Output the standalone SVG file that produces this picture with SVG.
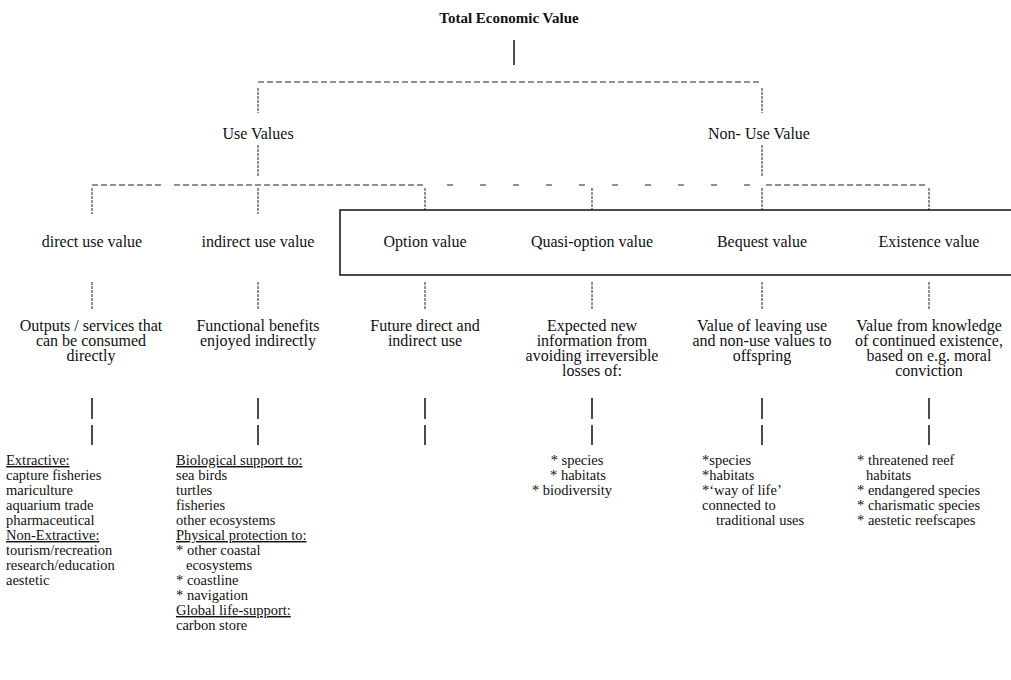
<svg xmlns="http://www.w3.org/2000/svg" width="1011" height="680" viewBox="0 0 1011 680">
<style>
text{font-family:"Liberation Serif","Times New Roman",serif;font-size:16px;fill:#111}
.c{text-anchor:middle}
.b{font-weight:bold;font-size:15px}
.u{text-decoration:underline}
.l text{font-size:14.5px}
.dash{stroke:#222;stroke-width:1.2;fill:none;stroke-dasharray:6 3}
.sparse{stroke:#222;stroke-width:1.2;fill:none;stroke-dasharray:6 27}
.dot{stroke:#222;stroke-width:1;fill:none;stroke-dasharray:3 1}
.sol{stroke:#111;stroke-width:1.5;fill:none}
.box{stroke:#111;stroke-width:1.5;fill:none}
</style>
<g id="connectors">
<line class="sol" x1="514" y1="40" x2="514" y2="65"/>
<line class="dash" x1="258" y1="82" x2="762" y2="82"/>
<line class="dot" x1="258" y1="88" x2="258" y2="113"/>
<line class="dot" x1="762" y1="88" x2="762" y2="113"/>
<line class="dot" x1="258" y1="145" x2="258" y2="177"/>
<line class="dot" x1="762" y1="145" x2="762" y2="177"/>
<line class="dash" x1="92" y1="185" x2="164" y2="185"/>
<line class="dash" x1="174" y1="185" x2="426" y2="185"/>
<line class="sparse" x1="447" y1="185" x2="750" y2="185"/>
<line class="dash" x1="766" y1="185" x2="926" y2="185"/>
<line class="dot" x1="92" y1="188" x2="92" y2="214"/>
<line class="dot" x1="258" y1="188" x2="258" y2="214"/>
<line class="dot" x1="425" y1="188" x2="425" y2="210"/>
<line class="dot" x1="592" y1="188" x2="592" y2="210"/>
<line class="dot" x1="762" y1="188" x2="762" y2="210"/>
<line class="dot" x1="929" y1="188" x2="929" y2="210"/>
<line class="dot" x1="92" y1="282" x2="92" y2="310"/>
<line class="dot" x1="258" y1="282" x2="258" y2="310"/>
<line class="dot" x1="425" y1="282" x2="425" y2="310"/>
<line class="dot" x1="592" y1="282" x2="592" y2="310"/>
<line class="dot" x1="762" y1="282" x2="762" y2="310"/>
<line class="dot" x1="929" y1="282" x2="929" y2="310"/>
<g class="sol">
<path d="M92 398V419M92 425V445"/>
<path d="M258 398V419M258 425V445"/>
<path d="M425 398V419M425 425V445"/>
<path d="M592 398V419M592 425V445"/>
<path d="M762 398V419M762 425V445"/>
<path d="M929 398V419M929 425V445"/>
</g>
</g>
<g id="nonuse-box"><path class="box" d="M1015 210H340V275H1015"/></g>
<g id="tev"><text class="c b" x="509" y="23">Total Economic Value</text></g>
<g id="use-values"><text class="c" x="258" y="139">Use Values</text></g>
<g id="non-use-value"><text class="c" x="759" y="139">Non- Use Value</text></g>
<g id="direct-use"><text class="c" x="92" y="247">direct use value</text>
<text class="c" x="91" y="331">Outputs / services that</text>
<text class="c" x="91" y="346">can be consumed</text>
<text class="c" x="91" y="361">directly</text></g>
<g id="indirect-use"><text class="c" x="258" y="247">indirect use value</text>
<text class="c" x="258" y="331">Functional benefits</text>
<text class="c" x="258" y="346">enjoyed indirectly</text></g>
<g id="option"><text class="c" x="425" y="247">Option value</text>
<text class="c" x="425" y="331">Future direct and</text>
<text class="c" x="425" y="346">indirect use</text></g>
<g id="quasi-option"><text class="c" x="592" y="247">Quasi-option value</text>
<text class="c" x="592" y="331">Expected new</text>
<text class="c" x="592" y="346">information from</text>
<text class="c" x="592" y="361">avoiding irreversible</text>
<text class="c" x="592" y="376">losses of:</text></g>
<g id="bequest"><text class="c" x="762" y="247">Bequest value</text>
<text class="c" x="762" y="331">Value of leaving use</text>
<text class="c" x="762" y="346">and non-use values to</text>
<text class="c" x="762" y="361">offspring</text></g>
<g id="existence"><text class="c" x="929" y="247">Existence value</text>
<text class="c" x="929" y="331">Value from knowledge</text>
<text class="c" x="929" y="346">of continued existence,</text>
<text class="c" x="929" y="361">based on e.g. moral</text>
<text class="c" x="929" y="376">conviction</text></g>
<g id="direct-list" class="l">
<text class="u" x="6" y="465">Extractive:</text>
<text x="6" y="480">capture fisheries</text>
<text x="6" y="495">mariculture</text>
<text x="6" y="510">aquarium trade</text>
<text x="6" y="525">pharmaceutical</text>
<text class="u" x="6" y="540">Non-Extractive:</text>
<text x="6" y="555">tourism/recreation</text>
<text x="6" y="570">research/education</text>
<text x="6" y="585">aestetic</text>
</g>
<g id="indirect-list" class="l">
<text class="u" x="176" y="465">Biological support to:</text>
<text x="176" y="480">sea birds</text>
<text x="176" y="495">turtles</text>
<text x="176" y="510">fisheries</text>
<text x="176" y="525">other ecosystems</text>
<text class="u" x="176" y="540">Physical protection to:</text>
<text x="176" y="555">* other coastal</text>
<text x="186" y="570">ecosystems</text>
<text x="176" y="585">* coastline</text>
<text x="176" y="600">* navigation</text>
<text class="u" x="176" y="615">Global life-support:</text>
<text x="176" y="630">carbon store</text>
</g>
<g id="quasi-list" class="l">
<text class="c" x="577" y="465">* species</text>
<text class="c" x="578" y="480">* habitats</text>
<text class="c" x="572" y="495">* biodiversity</text>
</g>
<g id="bequest-list" class="l">
<text x="702" y="465">*species</text>
<text x="702" y="480">*habitats</text>
<text x="702" y="495">*‘way of life’</text>
<text x="702" y="510">connected to</text>
<text x="716" y="525">traditional uses</text>
</g>
<g id="existence-list" class="l">
<text x="857" y="465">* threatened reef</text>
<text x="866" y="480">habitats</text>
<text x="857" y="495">* endangered species</text>
<text x="857" y="510">* charismatic species</text>
<text x="857" y="525">* aestetic reefscapes</text>
</g>
</svg>
